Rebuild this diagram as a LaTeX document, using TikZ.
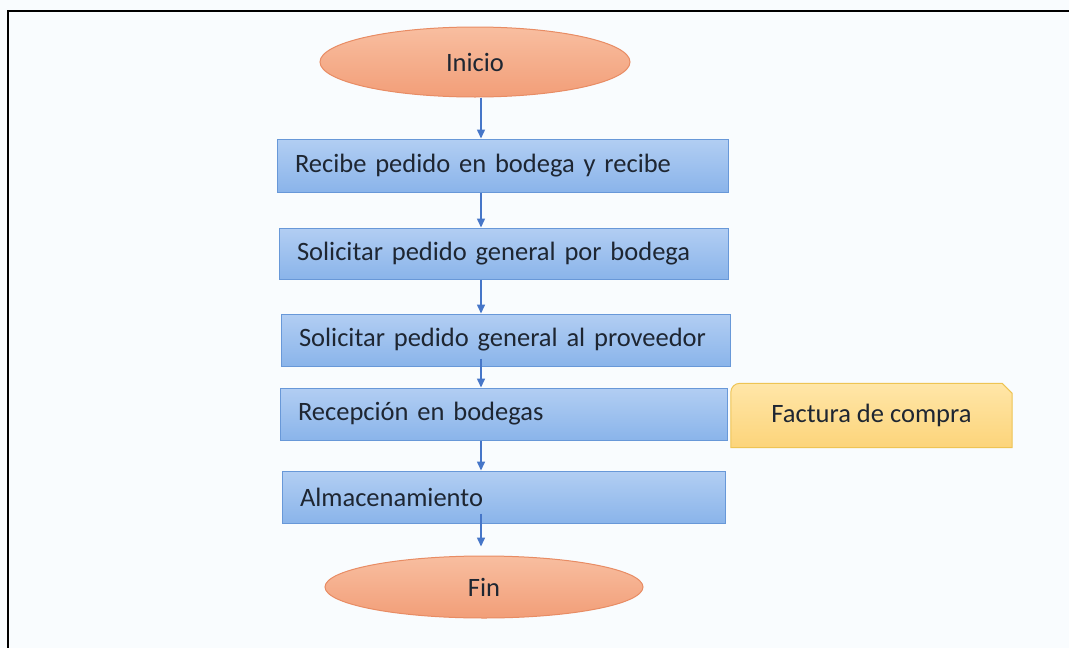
\documentclass[tikz,border=0pt]{standalone}
\usepackage{fontspec}
\setmainfont{Carlito}
\usetikzlibrary{shapes.geometric,arrows.meta,calc}
\definecolor{bgc}{RGB}{249,252,254}
\definecolor{boxtop}{RGB}{178,206,243}
\definecolor{boxbot}{RGB}{138,180,234}
\definecolor{boxline}{RGB}{104,152,216}
\definecolor{elltop}{RGB}{248,190,160}
\definecolor{ellbot}{RGB}{242,158,120}
\definecolor{ellline}{RGB}{232,140,100}
\definecolor{factop}{RGB}{255,230,168}
\definecolor{facbot}{RGB}{252,212,122}
\definecolor{facline}{RGB}{238,196,84}
\definecolor{arrc}{RGB}{70,118,200}
\definecolor{txt}{RGB}{30,38,50}
\begin{document}
\begin{tikzpicture}[x=1pt,y=-1pt,
  every node/.style={font=\fontsize{26.5}{30}\selectfont, text=txt},
  stepbox/.style={rectangle, draw=boxline, line width=1pt, top color=boxtop, bottom color=boxbot,
    inner xsep=18pt, inner ysep=0pt, align=left},
  endell/.style={ellipse, draw=ellline, line width=1pt, top color=elltop, bottom color=ellbot, inner sep=0pt},
  arr/.style={draw=arrc, line width=1.5pt, -{Triangle[length=9pt,width=8pt]}},
  frame/.style={line width=2pt, black}]
\useasboundingbox (0,0) rectangle (1069,648);
\fill[bgc] (0,0) rectangle (1069,648);
\coordinate (tl) at (8,11);
\coordinate (tr) at (1069,11);
\coordinate (bl) at (8,648);
\draw[frame] (bl) -- (tl) -- (tr);

\node[endell, minimum width=310pt, minimum height=70pt] (ini) at (475,62) {Inicio};
\node[stepbox, text width=415pt, minimum height=53pt] (b1) at (502.5,165.5) {Recibe pedido en bodega y recibe};
\node[stepbox, text width=413pt, minimum height=51pt] (b2) at (503.5,253.5) {Solicitar pedido general por bodega};
\node[stepbox, text width=413pt, minimum height=52pt] (b3) at (505.5,340) {Solicitar pedido general al proveedor};
\node[stepbox, text width=411pt, minimum height=52pt] (b4) at (503.5,414) {Recepción en bodegas};
\node[stepbox, text width=407pt, minimum height=52pt] (b5) at (503.5,497) {Almacenamiento};
\node[endell, minimum width=318pt, minimum height=62pt] (fin) at (484,587) {Fin};

\node[inner sep=0pt, minimum width=281pt, minimum height=64pt] (fac) at (871.5,415.5) {Factura de compra};
\begin{scope}[on background layer/.try]
\end{scope}
\path[draw=facline, line width=1pt, top color=factop, bottom color=facbot]
  (fac.south west) [rounded corners=9pt] -- (fac.north west) [sharp corners] -- ($(fac.north east)+(-10pt,0pt)$)
  -- ($(fac.north east)+(0pt,-10pt)$) -- (fac.south east) -- cycle;
\node[inner sep=0pt] (factxt) at (fac.center) {Factura de compra};

\coordinate (axis) at (481,0);
\draw[arr] (ini.south -| axis) -- (b1.north -| axis);
\draw[arr] (b1.south -| axis) -- (b2.north -| axis);
\draw[arr] (b2.south -| axis) -- (b3.north -| axis);
\draw[arr] ($(b3.south -| axis)+(0pt,8pt)$) -- (b4.north -| axis);
\draw[arr] (b4.south -| axis) -- (b5.north -| axis);
\draw[arr, shorten >=9pt] ($(b5.south -| axis)+(0pt,10pt)$) -- ($(fin.north -| axis)$);
\end{tikzpicture}
\end{document}
